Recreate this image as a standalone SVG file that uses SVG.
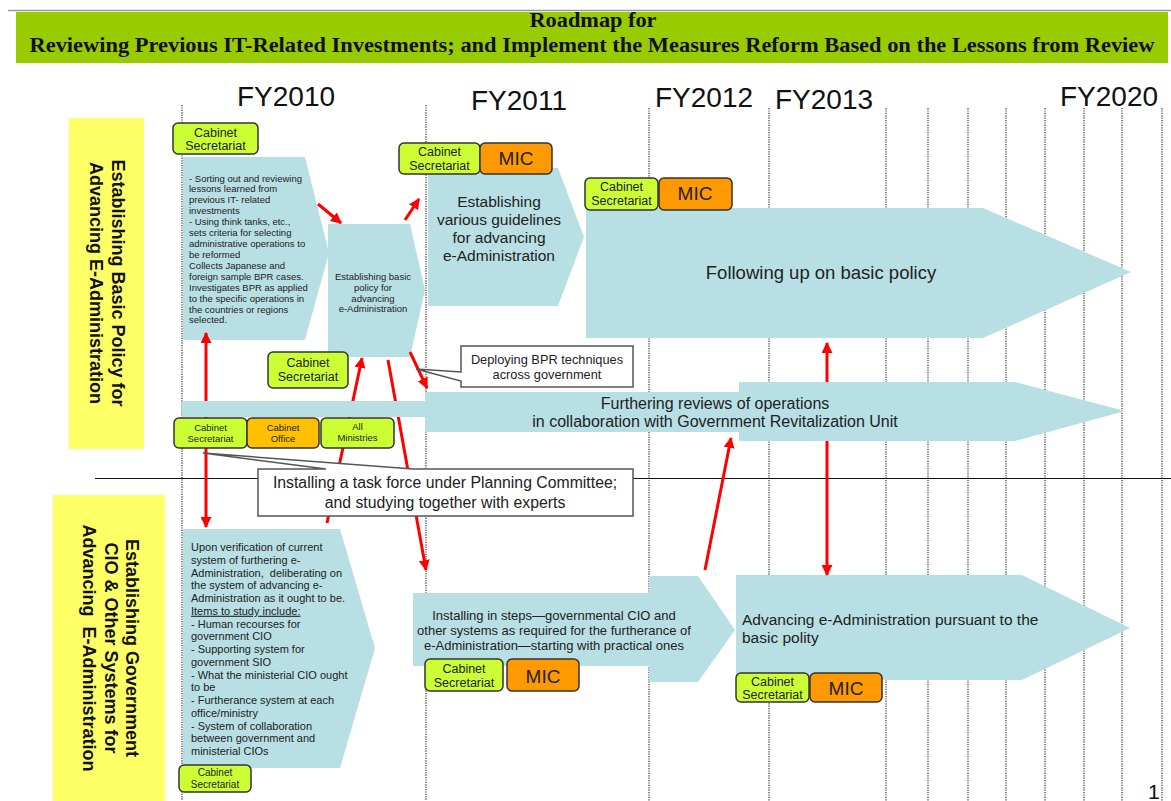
<svg xmlns="http://www.w3.org/2000/svg" width="1171" height="801" viewBox="0 0 1171 801">
<defs>
<style>
.bg{fill:#fff}
.dot{stroke:#333;stroke-width:1.2;stroke-dasharray:1.2 1.2;fill:none}
.lbl{fill:#FFFF66}
.lt{font-family:"Liberation Sans",Arial,sans-serif;font-weight:bold;font-size:18px;fill:#111;text-anchor:middle;white-space:pre}
.shape{fill:#B8DFE3}
.t{font-family:"Liberation Sans",Arial,sans-serif;fill:#222;white-space:pre}
.c{text-anchor:middle}
.fy{font-family:"Liberation Sans",Arial,sans-serif;font-size:28px;fill:#111}
.g{fill:#CCFF33;stroke:#333;stroke-width:1.5}
.o{fill:#FF9900;stroke:#333;stroke-width:1.5}
.y{fill:#FFC000;stroke:#333;stroke-width:1.5}
.bt{font-family:"Liberation Sans",Arial,sans-serif;fill:#222;text-anchor:middle}
.call{fill:#fff;stroke:#555;stroke-width:1.5}
.arr{stroke:#FF0000;stroke-width:3;fill:none}
</style>
<marker id="ah" viewBox="0 0 10 10" refX="9" refY="5" markerWidth="11" markerHeight="11" markerUnits="userSpaceOnUse" orient="auto-start-reverse">
<path d="M0,0 L10,5 L0,10 Z" fill="#FF0000"/>
</marker>
</defs>
<rect class="bg" x="0" y="0" width="1171" height="801"/>

<!-- header -->
<g id="header">
<line x1="8" y1="10.5" x2="1171" y2="10.5" stroke="#999" stroke-width="1.5"/>
<rect x="16" y="12" width="1152" height="51" fill="#99CC00"/>
<text x="593" y="27" font-family="Liberation Serif,serif" font-weight="bold" font-size="20" fill="#111" text-anchor="middle" textLength="127" lengthAdjust="spacingAndGlyphs">Roadmap for</text>
<text x="592" y="52" font-family="Liberation Serif,serif" font-weight="bold" font-size="20" fill="#111" text-anchor="middle" textLength="1125" lengthAdjust="spacingAndGlyphs">Reviewing Previous IT-Related Investments; and Implement the Measures Reform Based on the Lessons from Review</text>
</g>

<!-- grid -->
<g id="grid">
<line class="dot" x1="182" y1="105" x2="182" y2="801"/>
<line class="dot" x1="426" y1="105" x2="426" y2="801"/>
<line class="dot" x1="649" y1="108" x2="649" y2="801"/>
<line class="dot" x1="769" y1="108" x2="769" y2="801"/>
<line class="dot" x1="886" y1="108" x2="886" y2="801"/>
<line class="dot" x1="928" y1="108" x2="928" y2="801"/>
<line class="dot" x1="968" y1="108" x2="968" y2="801"/>
<line class="dot" x1="1006" y1="108" x2="1006" y2="801"/>
<line class="dot" x1="1045" y1="108" x2="1045" y2="801"/>
<line class="dot" x1="1084" y1="108" x2="1084" y2="801"/>
<line class="dot" x1="1122" y1="108" x2="1122" y2="801"/>
<line class="dot" x1="1162" y1="108" x2="1162" y2="801"/>
<line x1="95" y1="478.5" x2="1171" y2="478.5" stroke="#111" stroke-width="1.2"/>
</g>

<g id="years">
<text class="fy" x="237" y="106">FY2010</text>
<text class="fy" x="471" y="110">FY2011</text>
<text class="fy" x="655" y="107">FY2012</text>
<text class="fy" x="775" y="109">FY2013</text>
<text class="fy" x="1060" y="106">FY2020</text>
</g>

<g id="label-basic-policy">
<rect class="lbl" x="69" y="118" width="75" height="331"/>
<text class="lt" transform="translate(112,283) rotate(90)"><tspan x="0" y="0">Establishing Basic Policy for</tspan><tspan x="0" dy="22">Advancing E-Administration</tspan></text>
</g>
<g id="label-cio">
<rect class="lbl" x="53" y="495" width="112" height="306"/>
<text class="lt" transform="translate(126,648) rotate(90)"><tspan x="0" y="0">Establishing Government</tspan><tspan x="0" dy="21.5">CIO &amp; Other Systems for</tspan><tspan x="0" dy="21.5">Advancing  E-Administration</tspan></text>
</g>

<!-- shapes -->
<g id="node-sorting">
<polygon class="shape" points="183,157 305,157 329,253 305,340 183,340"/>
<text class="t" font-size="9.5"><tspan x="189" y="181.5">- Sorting out and reviewing</tspan><tspan x="189" dy="10.92">lessons learned from</tspan><tspan x="189" dy="10.92">previous IT- related</tspan><tspan x="189" dy="10.92">investments</tspan><tspan x="189" dy="10.92">- Using think tanks, etc.,</tspan><tspan x="189" dy="10.92">sets criteria for selecting</tspan><tspan x="189" dy="10.92">administrative operations to</tspan><tspan x="189" dy="10.92">be reformed</tspan><tspan x="189" dy="10.92">Collects Japanese and</tspan><tspan x="189" dy="10.92">foreign sample BPR cases.</tspan><tspan x="189" dy="10.92">Investigates BPR as applied</tspan><tspan x="189" dy="10.92">to the specific operations in</tspan><tspan x="189" dy="10.92">the countries or regions</tspan><tspan x="189" dy="10.92">selected.</tspan></text>
</g>
<g id="node-basic-policy">
<polygon class="shape" points="328,224 410,224 425,290 410,357 328,357"/>
<text class="t c" font-size="9.5"><tspan x="373" y="280">Establishing basic</tspan><tspan x="373" dy="10.8">policy for</tspan><tspan x="373" dy="10.8">advancing</tspan><tspan x="373" dy="10.8">e-Administration</tspan></text>
</g>
<g id="node-guidelines">
<polygon class="shape" points="428,168 558,168 584,237 558,306 428,306"/>
<text class="t c" font-size="15.5"><tspan x="499" y="207">Establishing</tspan><tspan x="499" dy="18">various guidelines</tspan><tspan x="499" dy="18">for advancing</tspan><tspan x="499" dy="18">e-Administration</tspan></text>
</g>
<g id="node-following">
<polygon class="shape" points="586,208 983,208 1131,272 983,338 586,338"/>
<text class="t c" font-size="18.5" x="821" y="279">Following up on basic policy</text>
</g>
<g id="node-upon">
<polygon class="shape" points="183,529 340,529 375,648 340,768 183,768"/>
<text class="t" font-size="11"><tspan x="191" y="551">Upon verification of current</tspan><tspan x="191" dy="12.75">system of furthering e-</tspan><tspan x="191" dy="12.75">Administration,  deliberating on</tspan><tspan x="191" dy="12.75">the system of advancing e-</tspan><tspan x="191" dy="12.75">Administration as it ought to be.</tspan><tspan x="191" dy="12.75" text-decoration="underline">Items to study include:</tspan><tspan x="191" dy="12.75">- Human recourses for</tspan><tspan x="191" dy="12.75">government CIO</tspan><tspan x="191" dy="12.75">- Supporting system for</tspan><tspan x="191" dy="12.75">government SIO</tspan><tspan x="191" dy="12.75">- What the ministerial CIO ought</tspan><tspan x="191" dy="12.75">to be</tspan><tspan x="191" dy="12.75">- Furtherance system at each</tspan><tspan x="191" dy="12.75">office/ministry</tspan><tspan x="191" dy="12.75">- System of collaboration</tspan><tspan x="191" dy="12.75">between government and</tspan><tspan x="191" dy="12.75">ministerial CIOs</tspan></text>
</g>
<g id="node-installing-steps">
<polygon class="shape" points="413,593 649,593 649,576 698,576 735,630 698,682 649,682 649,666 413,666"/>
<text class="t c" font-size="13"><tspan x="554" y="619.5">Installing in steps—governmental CIO and</tspan><tspan x="554" dy="15">other systems as required for the furtherance of</tspan><tspan x="554" dy="15">e-Administration—starting with practical ones</tspan></text>
</g>
<g id="node-advancing">
<polygon class="shape" points="736,575 1022,575 1130,628 1022,680 736,680"/>
<text class="t" font-size="15.5"><tspan x="742" y="625">Advancing e-Administration pursuant to the</tspan><tspan x="742" dy="18">basic polity</tspan></text>
</g>

<!-- connectors -->
<g id="connectors">
<line class="arr" x1="318" y1="204" x2="341" y2="223" marker-end="url(#ah)"/>
<line class="arr" x1="405" y1="220" x2="419" y2="199" marker-end="url(#ah)"/>
<line class="arr" x1="206" y1="333" x2="206" y2="527" marker-start="url(#ah)" marker-end="url(#ah)"/>
<line class="arr" x1="327" y1="523" x2="362" y2="358" marker-end="url(#ah)"/>
<line class="arr" x1="388" y1="360" x2="426" y2="570" marker-end="url(#ah)"/>
<line class="arr" x1="410" y1="352" x2="427" y2="388" marker-end="url(#ah)"/>
<line class="arr" x1="705" y1="570" x2="731" y2="438" marker-end="url(#ah)"/>
<line class="arr" x1="827" y1="343" x2="827" y2="575" marker-start="url(#ah)" marker-end="url(#ah)"/>
</g>

<g id="node-furthering">
<rect class="shape" x="182" y="401" width="246" height="16"/>
<rect class="shape" x="425" y="392" width="316" height="40"/>
<polygon class="shape" points="739,382 1015,382 1125,411 1015,441 739,441"/>
<text class="t c" font-size="16"><tspan x="715" y="409">Furthering reviews of operations</tspan><tspan x="715" dy="18">in collaboration with Government Revitalization Unit</tspan></text>
</g>

<!-- organisation boxes -->
<g id="org-cs-1">
<rect class="g" x="173" y="123" width="85" height="31" rx="5"/>
<text class="bt" font-size="12.5"><tspan x="215.5" y="137">Cabinet</tspan><tspan x="215.5" y="150">Secretariat</tspan></text>
</g>
<g id="org-cs-mic-2">
<rect class="g" x="399" y="143" width="81" height="31" rx="5"/>
<text class="bt" font-size="12.5"><tspan x="439.5" y="156">Cabinet</tspan><tspan x="439.5" y="170">Secretariat</tspan></text>
<rect class="o" x="480" y="143" width="72" height="31" rx="5"/>
<text class="bt" font-size="19" x="516" y="165">MIC</text>
</g>
<g id="org-cs-mic-3">
<rect class="g" x="585" y="178" width="73" height="32" rx="5"/>
<text class="bt" font-size="12.5"><tspan x="621.5" y="191">Cabinet</tspan><tspan x="621.5" y="205">Secretariat</tspan></text>
<rect class="o" x="659" y="178" width="73" height="32" rx="5"/>
<text class="bt" font-size="19" x="695" y="200">MIC</text>
</g>
<g id="org-cs-4">
<rect class="g" x="268" y="352" width="80" height="36" rx="5"/>
<text class="bt" font-size="12.5"><tspan x="308" y="367">Cabinet</tspan><tspan x="308" y="381">Secretariat</tspan></text>
</g>
<g id="org-row">
<rect class="g" x="174" y="418" width="73" height="30" rx="5"/>
<text class="bt" font-size="9.5"><tspan x="210.5" y="431">Cabinet</tspan><tspan x="210.5" y="442">Secretariat</tspan></text>
<rect class="y" x="247" y="418" width="72" height="30" rx="5"/>
<text class="bt" font-size="9.5"><tspan x="283" y="431">Cabinet</tspan><tspan x="283" y="442">Office</tspan></text>
<rect class="g" x="321" y="418" width="73" height="30" rx="5"/>
<text class="bt" font-size="9.5"><tspan x="357.5" y="430">All</tspan><tspan x="357.5" y="441">Ministries</tspan></text>
</g>
<g id="org-cs-5">
<rect class="g" x="179" y="765" width="72" height="27" rx="5"/>
<text class="bt" font-size="10"><tspan x="215" y="776">Cabinet</tspan><tspan x="215" y="787.5">Secretariat</tspan></text>
</g>
<g id="org-cs-mic-6">
<rect class="g" x="425" y="659" width="78" height="32" rx="5"/>
<text class="bt" font-size="12.5"><tspan x="464" y="673">Cabinet</tspan><tspan x="464" y="687">Secretariat</tspan></text>
<rect class="o" x="507" y="659" width="72" height="32" rx="5"/>
<text class="bt" font-size="19" x="543" y="683">MIC</text>
</g>
<g id="org-cs-mic-7">
<rect class="g" x="736" y="673" width="73" height="29" rx="5"/>
<text class="bt" font-size="12.5"><tspan x="772.5" y="685.5">Cabinet</tspan><tspan x="772.5" y="699">Secretariat</tspan></text>
<rect class="o" x="810" y="673" width="72" height="29" rx="5"/>
<text class="bt" font-size="19" x="846" y="695">MIC</text>
</g>

<!-- callouts -->
<g id="callout-bpr">
<path class="call" d="M461,346 H633 V387 H461 V381 L416,369 L461,372 Z"/>
<text class="bt" font-size="12.8"><tspan x="547" y="364">Deploying BPR techniques</tspan><tspan x="547" dy="14.5">across government</tspan></text>
</g>
<g id="callout-taskforce">
<path class="call" d="M258,469 H326 L203,453 L413,469 H633 V516 H258 Z"/>
<text class="bt" font-size="15.8"><tspan x="445" y="488">Installing a task force under Planning Committee;</tspan><tspan x="445" dy="20">and studying together with experts</tspan></text>
</g>

<text x="1148" y="799" font-family="Liberation Sans,Arial,sans-serif" font-size="21" fill="#111">1</text>
</svg>
